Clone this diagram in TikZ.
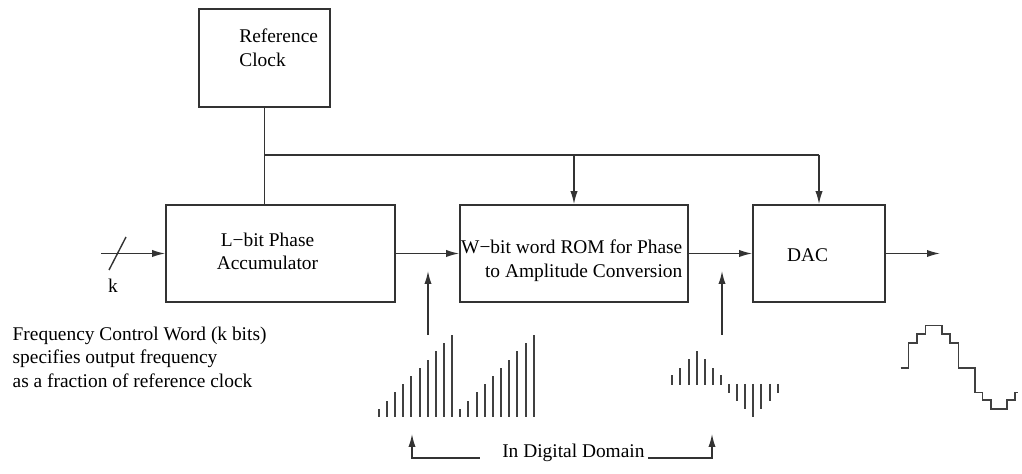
\documentclass[tikz,border=0pt]{standalone}
\usepackage{fontspec}
\setmainfont{LiberationSerif}[
	Extension=.ttf,
	UprightFont=*-Regular,
	BoldFont=*-Bold,
	ItalicFont=*-Italic
]
\usetikzlibrary{arrows.meta,positioning}

\begin{document}
\begin{tikzpicture}[
				x=0.5pt,y=-0.5pt,
				font=\rmfamily\fontsize{9.7}{11.8}\selectfont,
				>={Latex[length=6.5pt,width=3.6pt]},
				line width=0.7pt,
				block/.style={
					draw=black!80,
					line width=0.8pt,
					minimum height=48.5pt,
					inner sep=0pt
				},
				wire/.style={draw=black!80},
				sample/.style={
					draw=black!75,
					line width=1pt
				}
			]
			\useasboundingbox (0,0) rectangle (1022,474);
			\node[block,minimum width=65.5pt,minimum height=49pt] 
			(clk) at (264.5,58) {};
			\node[block,minimum width=114.5pt] 
			(acc) at (280.5,253.5) {};
			\node[block,minimum width=114pt] 
			(rom) at (574,253.5) {};
			\node[block,minimum width=66pt] 
			(dac) at (819,253.5) {};
			
			\node[align=left,anchor=west] (clktxt) at (232,48) 
			{Reference\\Clock};
			\node[align=center] (acctxt) at (267.5,251.5) 
			{L−bit Phase\\Accumulator};
			\node[align=right,anchor=east,inner sep=0pt] (romtxt) at (683,260.5) 
			{W−bit word ROM for Phase\\to Amplitude Conversion};
			\node (dactxt) at (807.5,255) {DAC};
			\node[anchor=base] (k) at (113,293) {k};
			\node[align=left,anchor=west,inner sep=0pt] (fcw) at (12,357) 
			{Frequency Control Word (k bits)\\specifies output frequency\\as a fraction of reference clock};
			\node[anchor=base] (dd) at (573.4,458) {In Digital Domain};
			
			% clock bus
			\coordinate (bus) at (264,155);
			\draw[wire] (clk.south) -- (clk.south |- acc.north);
			\draw[wire] (clk.south |- bus) -- (dac.north |- bus);
			\draw[wire,->] (rom.north |- bus) -- (rom.north);
			\draw[wire,->] (dac.north |- bus) -- (dac.north);
			
			% signal path
			\coordinate (in) at (101,253.5);
			\coordinate (out) at (940,253.5);
			\draw[wire,->] (in) -- (acc.west);
			\draw[wire] (109,270) -- (126,237);
			\draw[wire,->] (acc.east) -- (rom.west);
			\draw[wire,->] (rom.east) -- (dac.west);
			\draw[wire,->] (dac.east) -- (out);
			
			\coordinate (phA) at (428,335);
			\coordinate (phB) at (428,271);
			\coordinate (amA) at (722,335);
			\coordinate (amB) at (722,271);
			\draw[wire,->] (phA) -- (phB);
			\draw[wire,->] (amA) -- (amB);
			
			% phase samples
			\foreach \r in {0,1}
			\foreach \i in {1,...,10}
			\draw[sample] ({378.7+81.6*\r+8.16*(\i-1)},417) -- ++(0,{-8.2*\i});
			
			% amplitude samples
			\foreach \h [count=\i] in {10,17.3,25.7,34.3,25.7,17.3,10}
			\draw[sample] ({672.3+8.11*(\i-1)},385) -- ++(0,-\h);
			\foreach \h [count=\i] in {9,17,25,33,25,17,9}
			\draw[sample] ({729+8.11*(\i-1)},384) -- ++(0,\h);
			
			% output staircase
			\draw[sample,line width=0.8pt] (900.7,368.3) -| (908.3,343.3) -| (916.7,334.3) 
			-| (925.5,325.7) -| (941.7,334.3) -| (950,343.3) -| (958.3,368.3) 
			-| (975,392.7) -| (982.3,400) -| (991,409) -| (1006.7,400) 
			-| (1015,392.7) -- (1018,392.7);
			
			\draw[wire,->] ([xshift=-7.5pt]dd.base west) -| (412,434);
			\draw[wire,->] ([xshift=-2pt]dd.base east) -| (712,434);
		\end{tikzpicture}
\end{document}
